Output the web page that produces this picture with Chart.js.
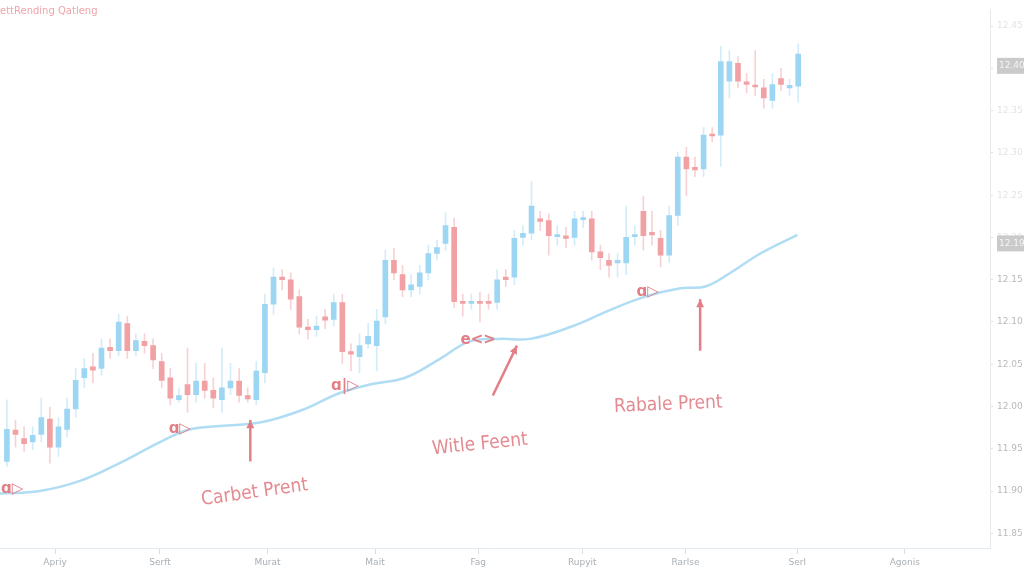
<!DOCTYPE html>
<html>
<head>
<meta charset="utf-8">
<script src="https://cdn.jsdelivr.net/npm/chart.js@4.4.1/dist/chart.umd.min.js"></script>
<style>
  html, body { margin: 0; padding: 0; background: #fff; }
</style>
</head>
<body>
<canvas id="myChart" width="1024" height="576"></canvas>
<script>
// candle values, one entry per session
const opens = [11.935, 11.972, 11.962, 11.958, 11.967, 11.985, 11.952, 11.973, 11.997, 12.034,
  12.047, 12.045, 12.070, 12.066, 12.098, 12.066, 12.077, 12.072, 12.053, 12.034,
  12.008, 12.026, 12.014, 12.030, 12.019, 12.008, 12.022, 12.030, 12.013, 12.008,
  12.040, 12.121, 12.153, 12.150, 12.130, 12.094, 12.091, 12.106, 12.103, 12.123,
  12.065, 12.059, 12.074, 12.072, 12.106, 12.173, 12.156, 12.138, 12.142, 12.158,
  12.181, 12.193, 12.212, 12.124, 12.122, 12.124, 12.124, 12.123, 12.153, 12.153,
  12.200, 12.205, 12.222, 12.220, 12.201, 12.202, 12.200, 12.221, 12.222, 12.183,
  12.173, 12.170, 12.170, 12.201, 12.231, 12.206, 12.199, 12.179, 12.226, 12.295,
  12.283, 12.281, 12.322, 12.321, 12.385, 12.406, 12.384, 12.380, 12.377, 12.362,
  12.388, 12.377, 12.379];
const closes = [11.973, 11.967, 11.956, 11.966, 11.987, 11.952, 11.976, 11.997, 12.031, 12.045,
  12.043, 12.069, 12.066, 12.100, 12.066, 12.078, 12.072, 12.055, 12.031, 12.010,
  12.013, 12.014, 12.030, 12.019, 12.010, 12.022, 12.030, 12.013, 12.009, 12.042,
  12.121, 12.153, 12.150, 12.127, 12.094, 12.091, 12.095, 12.102, 12.123, 12.065,
  12.062, 12.072, 12.083, 12.101, 12.173, 12.158, 12.138, 12.144, 12.158, 12.181,
  12.188, 12.214, 12.124, 12.122, 12.124, 12.122, 12.122, 12.150, 12.150, 12.199,
  12.205, 12.237, 12.219, 12.202, 12.203, 12.199, 12.222, 12.223, 12.183, 12.176,
  12.167, 12.173, 12.200, 12.203, 12.202, 12.203, 12.179, 12.226, 12.295, 12.281,
  12.280, 12.321, 12.320, 12.408, 12.408, 12.385, 12.381, 12.378, 12.365, 12.381,
  12.381, 12.380, 12.417];
const highs = [12.008, 11.984, 11.976, 11.976, 12.010, 11.999, 11.987, 12.010, 12.045, 12.057,
  12.063, 12.080, 12.080, 12.109, 12.107, 12.086, 12.086, 12.080, 12.063, 12.045,
  12.022, 12.069, 12.051, 12.051, 12.034, 12.069, 12.051, 12.045, 12.022, 12.053,
  12.133, 12.164, 12.162, 12.158, 12.138, 12.103, 12.107, 12.115, 12.133, 12.133,
  12.074, 12.086, 12.098, 12.115, 12.185, 12.187, 12.167, 12.156, 12.167, 12.191,
  12.197, 12.229, 12.223, 12.133, 12.133, 12.135, 12.133, 12.162, 12.162, 12.208,
  12.214, 12.266, 12.231, 12.228, 12.214, 12.212, 12.231, 12.231, 12.231, 12.191,
  12.181, 12.181, 12.237, 12.214, 12.249, 12.231, 12.208, 12.237, 12.301, 12.307,
  12.295, 12.330, 12.330, 12.426, 12.421, 12.414, 12.394, 12.421, 12.387, 12.394,
  12.400, 12.387, 12.429];
const lows = [11.929, 11.952, 11.947, 11.949, 11.958, 11.933, 11.941, 11.964, 11.987, 12.022,
  12.028, 12.037, 12.057, 12.060, 12.057, 12.060, 12.063, 12.045, 12.022, 12.002,
  12.005, 11.993, 12.005, 12.010, 11.999, 11.993, 12.014, 12.005, 12.005, 12.002,
  12.028, 12.109, 12.138, 12.115, 12.086, 12.080, 12.083, 12.092, 12.095, 12.051,
  12.042, 12.040, 12.069, 12.042, 12.098, 12.150, 12.130, 12.130, 12.133, 12.150,
  12.173, 12.185, 12.117, 12.107, 12.115, 12.100, 12.115, 12.115, 12.142, 12.144,
  12.191, 12.197, 12.208, 12.179, 12.191, 12.188, 12.191, 12.212, 12.173, 12.162,
  12.153, 12.153, 12.156, 12.191, 12.185, 12.191, 12.165, 12.170, 12.214, 12.249,
  12.272, 12.272, 12.313, 12.284, 12.365, 12.377, 12.371, 12.368, 12.353, 12.353,
  12.374, 12.368, 12.360];

// smooth average line (session index, value)
const maX = [-0.8, 3.8, 8.5, 13.1, 17.8, 21.3, 24.8, 29.4, 34.1, 38.7, 42.2, 46.3,
  50.3, 53.8, 57.3, 60.8, 65.5, 70.1, 74.2, 78.3, 81.2, 84.1, 87.6, 91.9];
const maY = [11.897, 11.900, 11.912, 11.933, 11.958, 11.973, 11.977, 11.981, 11.995, 12.016, 12.026, 12.034,
  12.056, 12.077, 12.080, 12.080, 12.094, 12.114, 12.130, 12.140, 12.142, 12.158, 12.181, 12.203];

const xLabels = ['Apriy', 'Serft', 'Murat', 'Mait', 'Fag', 'Rupyit', 'Rarlse', 'Serl', 'Agonis'];
const xTickPos = [5.6, 17.8, 30.3, 42.8, 54.8, 66.9, 78.9, 91.9, 104.4];
const yTicks = [11.85, 11.90, 11.95, 12.00, 12.05, 12.10, 12.15, 12.20, 12.25, 12.30, 12.35, 12.40, 12.45];
const priceTags = [12.403, 12.193];

const UP = '#9dd6f2', DOWN = '#f1a0a3';
const UP_WICK = '#d3ecf9', DOWN_WICK = '#f7d2d4';

const up = opens.map((o, i) => closes[i] >= o);

const notes = {
  id: 'notes',
  afterDatasetsDraw(chart) {
    const { ctx, scales: { x, y } } = chart;
    const red = '#e27f86';
    ctx.save();

    // markers on the average line
    const marks = [[0.6, 11.902, 'ɑ▷'], [20.1, 11.973, 'ɑ▷'], [39.3, 12.024, 'ɑ|▷'],
      [54.8, 12.078, 'e<>'], [74.5, 12.135, 'ɑ▷']];
    ctx.fillStyle = red;
    ctx.font = 'bold 15px "DejaVu Sans"';
    ctx.textAlign = 'center';
    ctx.textBaseline = 'middle';
    marks.forEach(m => ctx.fillText(m[2], x.getPixelForValue(m[0]), y.getPixelForValue(m[1])));

    // arrows
    const arrows = [[28.3, 11.935, 28.3, 11.984], [56.5, 12.013, 59.3, 12.072], [80.6, 12.066, 80.6, 12.127]];
    ctx.strokeStyle = red;
    ctx.lineWidth = 2.5;
    arrows.forEach(a => {
      const x1 = x.getPixelForValue(a[0]), y1 = y.getPixelForValue(a[1]);
      const x2 = x.getPixelForValue(a[2]), y2 = y.getPixelForValue(a[3]);
      const ang = Math.atan2(y2 - y1, x2 - x1);
      ctx.beginPath();
      ctx.moveTo(x1, y1);
      ctx.lineTo(x2, y2);
      ctx.stroke();
      ctx.beginPath();
      ctx.moveTo(x2, y2);
      ctx.lineTo(x2 - 9 * Math.cos(ang - 0.45), y2 - 9 * Math.sin(ang - 0.45));
      ctx.lineTo(x2 - 9 * Math.cos(ang + 0.45), y2 - 9 * Math.sin(ang + 0.45));
      ctx.closePath();
      ctx.fill();
    });

    // hand labels
    const labels = [[28.8, 11.898, 'Carbet Prent', -0.14], [55, 11.955, 'Witle Feent', -0.1],
      [76.9, 12.002, 'Rabale Prent', -0.04]];
    ctx.font = '19px "DejaVu Sans Condensed"';
    ctx.fillStyle = '#e48a91';
    labels.forEach(l => {
      ctx.save();
      ctx.translate(x.getPixelForValue(l[0]), y.getPixelForValue(l[1]));
      ctx.rotate(l[3]);
      ctx.fillText(l[2], 0, 0);
      ctx.restore();
    });
    ctx.restore();
  },
  afterDraw(chart) {
    const { ctx, scales: { y } } = chart;
    ctx.save();
    // title
    ctx.fillStyle = '#f0a4aa';
    ctx.font = '10px "DejaVu Sans"';
    ctx.textBaseline = 'middle';
    ctx.fillText('ettRending Qatleng', 0, 11);
    // price tags on the right axis
    priceTags.forEach(v => {
      const py = y.getPixelForValue(v);
      ctx.fillStyle = '#cacaca';
      ctx.fillRect(997, py - 8, 27, 16);
      ctx.fillStyle = '#f4f4f4';
      ctx.font = '9px "DejaVu Sans"';
      ctx.textAlign = 'left';
      ctx.fillText(v.toFixed(2), 999, py);
    });
    ctx.restore();
  }
};

const config = {
  data: {
    datasets: [{
      type: 'bar',
      label: 'wick',
      data: opens.map((o, i) => ({ x: i, y: [lows[i], highs[i]] })),
      backgroundColor: up.map(u => u ? UP_WICK : DOWN_WICK),
      barThickness: 1,
      grouped: false,
      order: 3
    }, {
      type: 'bar',
      label: 'body',
      data: opens.map((o, i) => ({ x: i, y: [o, closes[i]] })),
      backgroundColor: up.map(u => u ? UP : DOWN),
      barThickness: 5,
      minBarLength: 2,
      grouped: false,
      order: 2
    }, {
      type: 'line',
      label: 'average',
      data: maX.map((v, i) => ({ x: v, y: maY[i] })),
      borderColor: '#b0ddf4',
      borderWidth: 2.5,
      pointRadius: 0,
      tension: 0.4,
      order: 1
    }]
  },
  options: {
    responsive: false,
    animation: false,
    layout: { padding: 0 },
    plugins: {
      legend: { display: false },
      tooltip: { enabled: false }
    },
    scales: {
      x: {
        type: 'linear',
        offset: false,
        min: -0.8,
        max: 114.3,
        afterBuildTicks: s => { s.ticks = xTickPos.map(v => ({ value: v })); },
        afterFit: s => { s.height = 28; s.paddingLeft = 0; s.paddingRight = 0; },
        ticks: {
          autoSkip: false,
          maxRotation: 0,
          color: '#a9b0b6',
          font: { size: 9, family: 'DejaVu Sans' },
          padding: 3,
          callback: (v, i) => xLabels[i]
        },
        grid: { drawOnChartArea: false, offset: false, tickLength: 6, color: '#d8dfe4' },
        border: { color: '#e3eaef' }
      },
      y: {
        type: 'linear',
        position: 'right',
        min: 11.8326,
        max: 12.4698,
        afterBuildTicks: s => { s.ticks = yTicks.map(v => ({ value: v })); },
        afterFit: s => { s.width = 34; },
        ticks: {
          color: c => c.tick.value > 12.16 ? '#e4e4e4' : '#b9b9b9',
          font: { size: 9, family: 'DejaVu Sans' },
          padding: 4,
          callback: v => v.toFixed(2)
        },
        grid: { drawOnChartArea: false, tickLength: 3, color: '#e0e0e0' },
        border: { color: '#e6e9ee', dash: [2, 2] }
      }
    }
  },
  plugins: [notes]
};

var myChart = new Chart(document.getElementById('myChart'), config);
</script>
</body>
</html>
